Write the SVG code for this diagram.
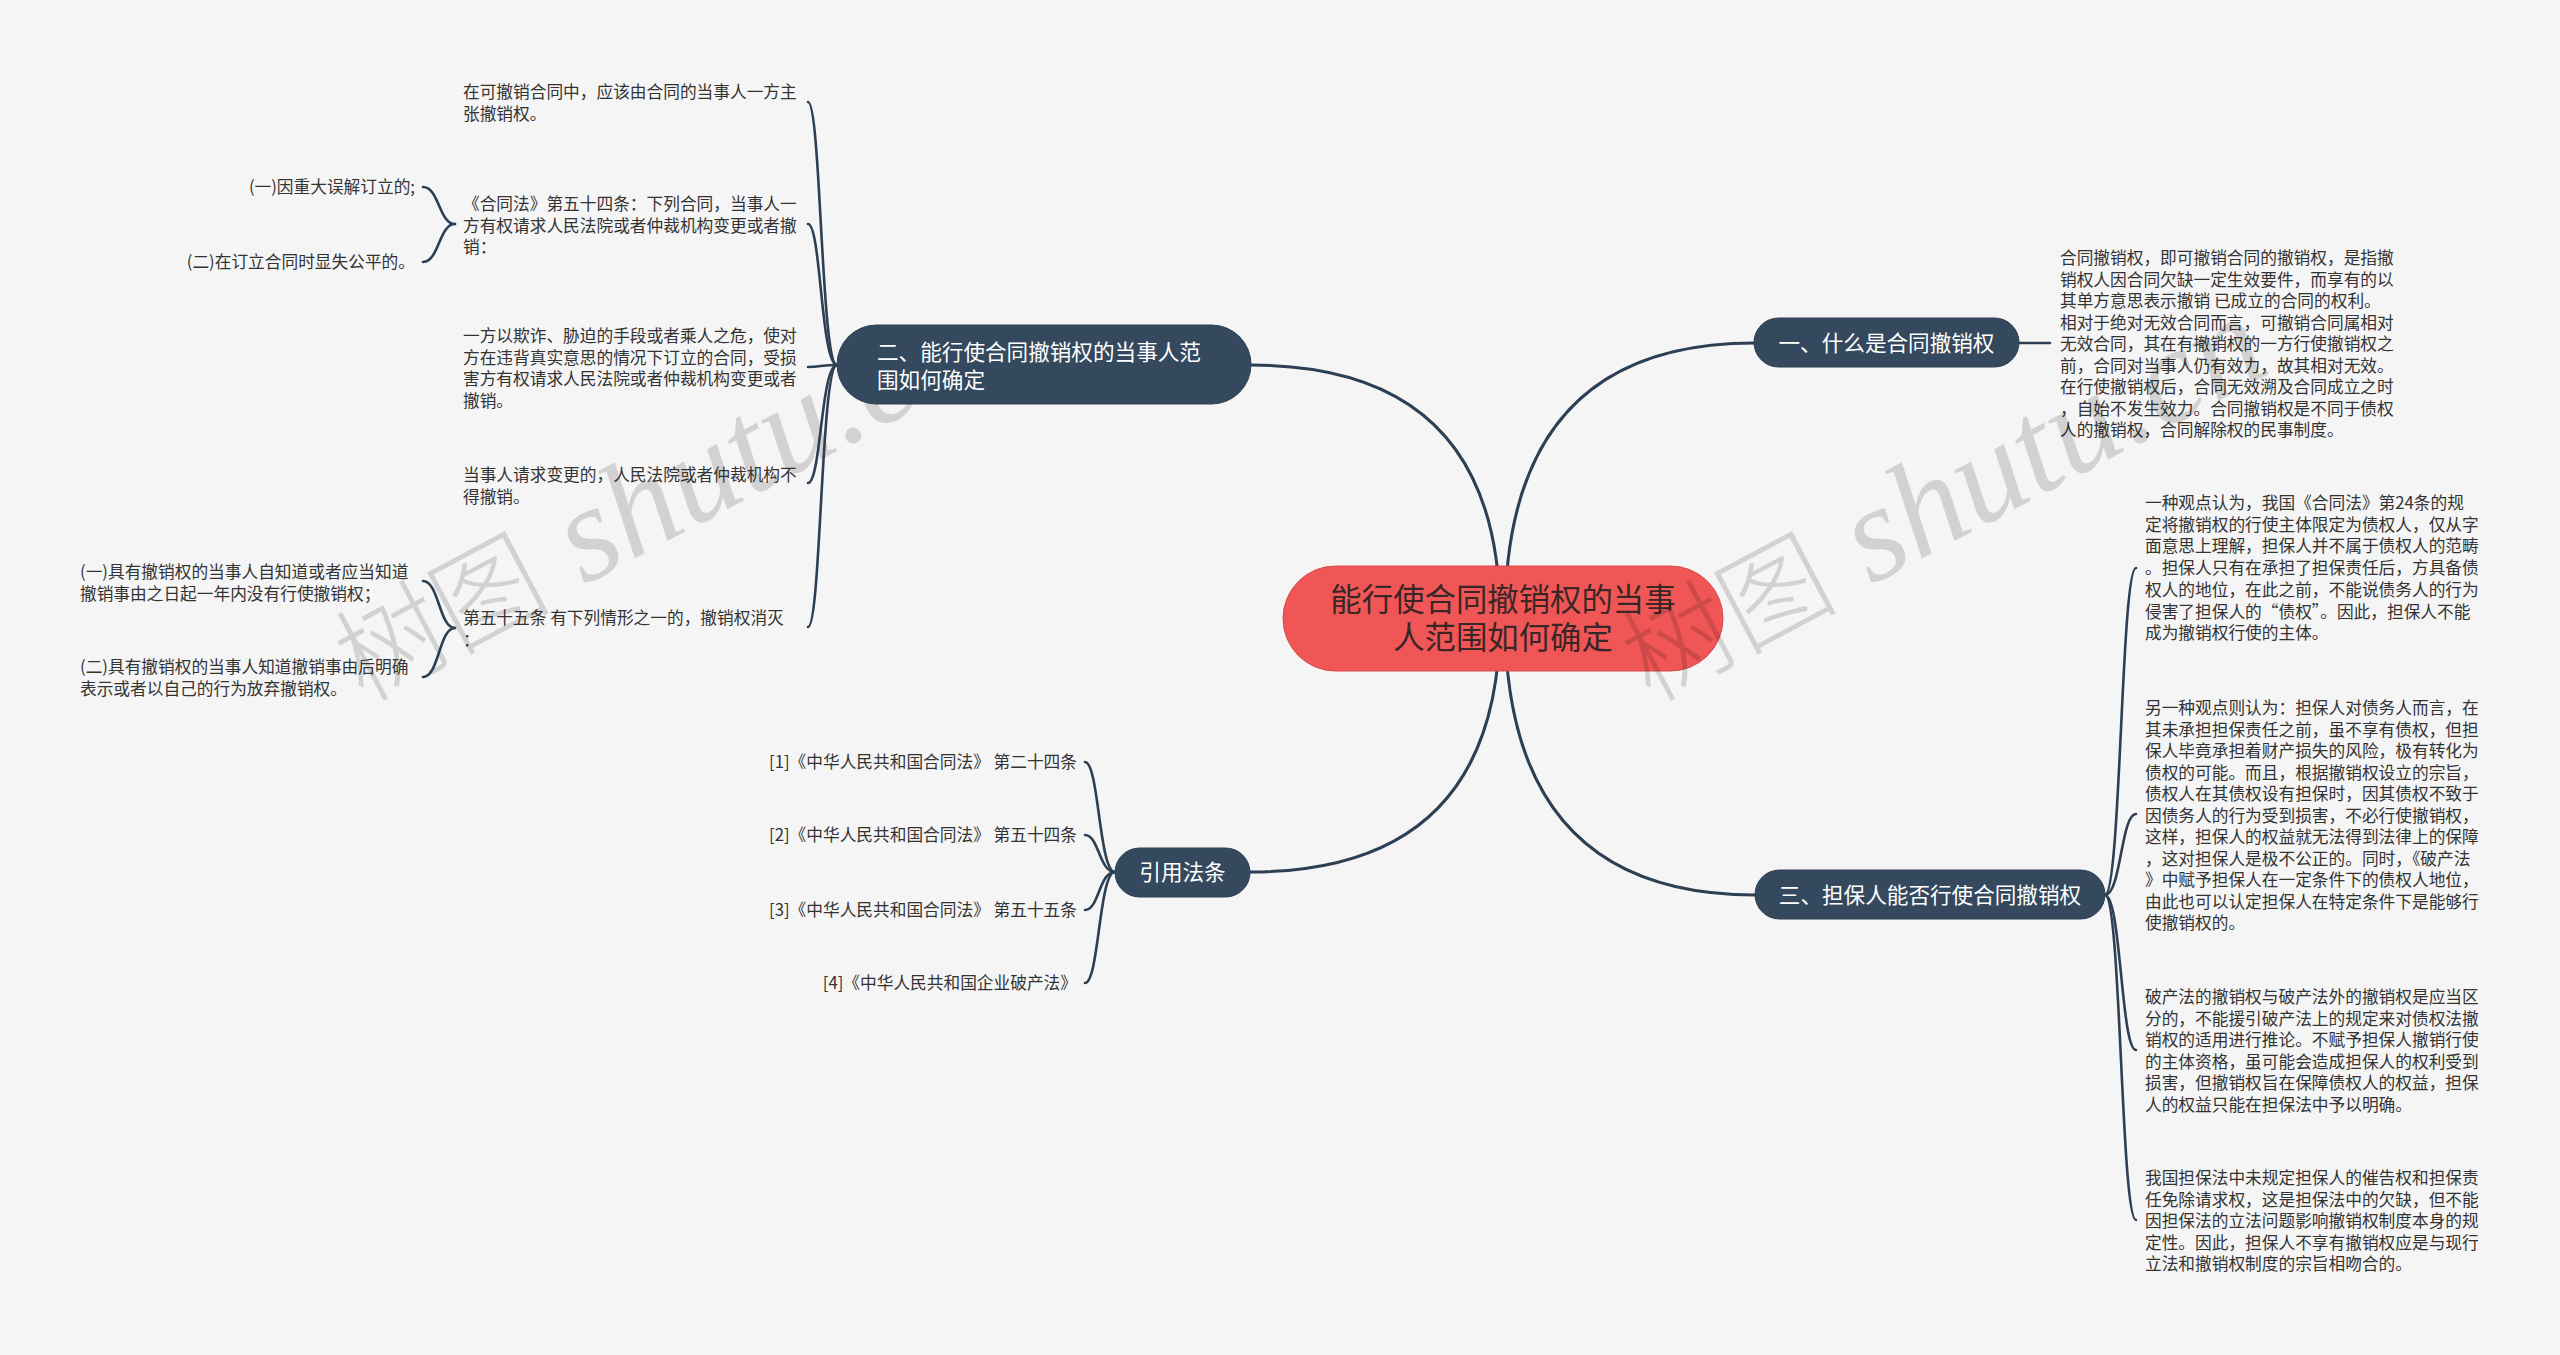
<svg xmlns="http://www.w3.org/2000/svg" width="2560" height="1355" viewBox="0 0 2560 1355">
<style>
.ln{fill:none;stroke:#2d3f52;stroke-width:3;stroke-linecap:round}
.sl{fill:none;stroke:#2d3f52;stroke-width:2.6;stroke-linecap:round}
.t{font-family:"Noto Sans CJK SC","Noto Sans",sans-serif;font-size:16.7px;fill:#333}
.bn{fill:#34495e;stroke:#2c3e50;stroke-width:1}
.bt{font-family:"Noto Sans CJK SC","Noto Sans",sans-serif;font-size:21.6px;fill:#fff}
.ct{font-family:"Noto Sans CJK SC","Noto Sans",sans-serif;font-size:31.4px;fill:#3b2626}
.wm{fill:#000;fill-opacity:0.14;font-family:"Liberation Serif","Noto Sans CJK SC",serif}
</style>
<rect width="2560" height="1355" fill="#f5f5f5"/>
<g id="watermark-left">
<text class="wm" transform="translate(363,703) rotate(-28)"><tspan font-size="108" font-weight="300">树图</tspan><tspan font-size="136" font-style="italic"> shutu.c</tspan></text>
</g>
<g id="connectors">
<path class="ln" d="M1505,618 Q1505,343 1754,343"/>
<path class="ln" d="M1500,618 Q1500,365 1251,365"/>
<path class="ln" d="M1505,618 Q1505,895 1755,895"/>
<path class="ln" d="M1500,618 Q1500,872 1250,872"/>
<path class="sl" d="M2019,343 H2050"/>
<path class="sl" d="M837,365 C821,365 821,102 808,102"/>
<path class="sl" d="M837,365 C821,365 821,224 808,224"/>
<path class="sl" d="M837,365 C821,365 821,367 808,367"/>
<path class="sl" d="M837,365 C821,365 821,483 808,483"/>
<path class="sl" d="M837,365 C821,365 821,627 808,627"/>
<path class="sl" d="M455,224 C439,224 439,187 423,187"/>
<path class="sl" d="M455,224 C439,224 439,262 423,262"/>
<path class="sl" d="M455,628 C439,628 439,581 423,581"/>
<path class="sl" d="M455,628 C439,628 439,677 423,677"/>
<path class="sl" d="M2105,895 C2121,895 2121,568 2136,568"/>
<path class="sl" d="M2105,895 C2121,895 2121,814 2136,814"/>
<path class="sl" d="M2105,895 C2121,895 2121,1050 2136,1050"/>
<path class="sl" d="M2105,895 C2121,895 2121,1220 2136,1220"/>
<path class="sl" d="M1115,872 C1099,872 1099,762 1085,762"/>
<path class="sl" d="M1115,872 C1099,872 1099,835 1085,835"/>
<path class="sl" d="M1115,872 C1099,872 1099,910 1085,910"/>
<path class="sl" d="M1115,872 C1099,872 1099,983 1085,983"/>
</g>
<g id="center">
<rect x="1283" y="566" width="440" height="105" rx="52.5" fill="#f05656" stroke="#d94848" stroke-width="1"/>
<text class="ct" text-anchor="middle"><tspan x="1503" y="611">能行使合同撤销权的当事</tspan><tspan x="1503" y="649">人范围如何确定</tspan></text>
</g>
<g id="b1">
<rect class="bn" x="1754" y="318" width="265" height="49" rx="24.5"/>
<text class="bt" x="1886.5" y="351" text-anchor="middle">一、什么是合同撤销权</text>
</g>
<g id="b1c1">
<text class="t"><tspan x="2060" y="264">合同撤销权，即可撤销合同的撤销权，是指撤</tspan><tspan x="2060" y="285.5">销权人因合同欠缺一定生效要件，而享有的以</tspan><tspan x="2060" y="307">其单方意思表示撤销 已成立的合同的权利。</tspan><tspan x="2060" y="328.5">相对于绝对无效合同而言，可撤销合同属相对</tspan><tspan x="2060" y="350">无效合同，其在有撤销权的一方行使撤销权之</tspan><tspan x="2060" y="371.5">前，合同对当事人仍有效力，故其相对无效。</tspan><tspan x="2060" y="393">在行使撤销权后，合同无效溯及合同成立之时</tspan><tspan x="2060" y="414.5">，自始不发生效力。合同撤销权是不同于债权</tspan><tspan x="2060" y="436">人的撤销权，合同解除权的民事制度。</tspan></text>
</g>
<g id="b2">
<rect class="bn" x="837" y="325" width="414" height="79" rx="39.5"/>
<text class="bt"><tspan x="877" y="360">二、能行使合同撤销权的当事人范</tspan><tspan x="877" y="388">围如何确定</tspan></text>
</g>
<g id="b2c1">
<text class="t"><tspan x="463" y="98">在可撤销合同中，应该由合同的当事人一方主</tspan><tspan x="463" y="119.5">张撤销权。</tspan></text>
</g>
<g id="b2c2">
<text class="t"><tspan x="463" y="210">《合同法》第五十四条：下列合同，当事人一</tspan><tspan x="463" y="231.5">方有权请求人民法院或者仲裁机构变更或者撤</tspan><tspan x="463" y="253">销：</tspan></text>
</g>
<g id="b2c2s1"><text class="t" x="415" y="193" text-anchor="end">(一)因重大误解订立的;</text></g>
<g id="b2c2s2"><text class="t" x="415" y="268" text-anchor="end">(二)在订立合同时显失公平的。</text></g>
<g id="b2c3">
<text class="t"><tspan x="463" y="342">一方以欺诈、胁迫的手段或者乘人之危，使对</tspan><tspan x="463" y="363.5">方在违背真实意思的情况下订立的合同，受损</tspan><tspan x="463" y="385">害方有权请求人民法院或者仲裁机构变更或者</tspan><tspan x="463" y="406.5">撤销。</tspan></text>
</g>
<g id="b2c4">
<text class="t"><tspan x="463" y="481">当事人请求变更的，人民法院或者仲裁机构不</tspan><tspan x="463" y="502.5">得撤销。</tspan></text>
</g>
<g id="b2c5">
<text class="t"><tspan x="463" y="624">第五十五条 有下列情形之一的，撤销权消灭</tspan><tspan x="463" y="645.5">：</tspan></text>
</g>
<g id="b2c5s1">
<text class="t"><tspan x="80" y="578">(一)具有撤销权的当事人自知道或者应当知道</tspan><tspan x="80" y="599.5">撤销事由之日起一年内没有行使撤销权；</tspan></text>
</g>
<g id="b2c5s2">
<text class="t"><tspan x="80" y="673">(二)具有撤销权的当事人知道撤销事由后明确</tspan><tspan x="80" y="694.5">表示或者以自己的行为放弃撤销权。</tspan></text>
</g>
<g id="b3">
<rect class="bn" x="1755" y="870" width="350" height="49" rx="24.5"/>
<text class="bt" x="1930" y="903" text-anchor="middle">三、担保人能否行使合同撤销权</text>
</g>
<g id="b3c1">
<text class="t"><tspan x="2145" y="509">一种观点认为，我国《合同法》第24条的规</tspan><tspan x="2145" y="530.7">定将撤销权的行使主体限定为债权人，仅从字</tspan><tspan x="2145" y="552.4">面意思上理解，担保人并不属于债权人的范畴</tspan><tspan x="2145" y="574.1">。担保人只有在承担了担保责任后，方具备债</tspan><tspan x="2145" y="595.8">权人的地位，在此之前，不能说债务人的行为</tspan><tspan x="2145" y="617.5">侵害了担保人的“债权”。因此，担保人不能</tspan><tspan x="2145" y="639.2">成为撤销权行使的主体。</tspan></text>
</g>
<g id="b3c2">
<text class="t"><tspan x="2145" y="714">另一种观点则认为：担保人对债务人而言，在</tspan><tspan x="2145" y="735.5">其未承担担保责任之前，虽不享有债权，但担</tspan><tspan x="2145" y="757">保人毕竟承担着财产损失的风险，极有转化为</tspan><tspan x="2145" y="778.5">债权的可能。而且，根据撤销权设立的宗旨，</tspan><tspan x="2145" y="800">债权人在其债权设有担保时，因其债权不致于</tspan><tspan x="2145" y="821.5">因债务人的行为受到损害，不必行使撤销权，</tspan><tspan x="2145" y="843">这样，担保人的权益就无法得到法律上的保障</tspan><tspan x="2145" y="864.5">，这对担保人是极不公正的。同时，《破产法</tspan><tspan x="2145" y="886">》中赋予担保人在一定条件下的债权人地位，</tspan><tspan x="2145" y="907.5">由此也可以认定担保人在特定条件下是能够行</tspan><tspan x="2145" y="929">使撤销权的。</tspan></text>
</g>
<g id="b3c3">
<text class="t"><tspan x="2145" y="1003">破产法的撤销权与破产法外的撤销权是应当区</tspan><tspan x="2145" y="1024.6">分的，不能援引破产法上的规定来对债权法撤</tspan><tspan x="2145" y="1046.2">销权的适用进行推论。不赋予担保人撤销行使</tspan><tspan x="2145" y="1067.8">的主体资格，虽可能会造成担保人的权利受到</tspan><tspan x="2145" y="1089.4">损害，但撤销权旨在保障债权人的权益，担保</tspan><tspan x="2145" y="1111">人的权益只能在担保法中予以明确。</tspan></text>
</g>
<g id="b3c4">
<text class="t"><tspan x="2145" y="1184">我国担保法中未规定担保人的催告权和担保责</tspan><tspan x="2145" y="1205.5">任免除请求权，这是担保法中的欠缺，但不能</tspan><tspan x="2145" y="1227">因担保法的立法问题影响撤销权制度本身的规</tspan><tspan x="2145" y="1248.5">定性。因此，担保人不享有撤销权应是与现行</tspan><tspan x="2145" y="1270">立法和撤销权制度的宗旨相吻合的。</tspan></text>
</g>
<g id="b4">
<rect class="bn" x="1115" y="848" width="135" height="49" rx="24.5"/>
<text class="bt" x="1182.5" y="880" text-anchor="middle">引用法条</text>
</g>
<g id="b4c1"><text class="t" x="1077" y="768" text-anchor="end">[1]《中华人民共和国合同法》 第二十四条</text></g>
<g id="b4c2"><text class="t" x="1077" y="841" text-anchor="end">[2]《中华人民共和国合同法》 第五十四条</text></g>
<g id="b4c3"><text class="t" x="1077" y="916" text-anchor="end">[3]《中华人民共和国合同法》 第五十五条</text></g>
<g id="b4c4"><text class="t" x="1077" y="989" text-anchor="end">[4]《中华人民共和国企业破产法》</text></g>
<g id="watermark-right">
<text class="wm" transform="translate(1650,703) rotate(-28)"><tspan font-size="108" font-weight="300">树图</tspan><tspan font-size="136" font-style="italic"> shutu.cn</tspan></text>
</g>
</svg>
